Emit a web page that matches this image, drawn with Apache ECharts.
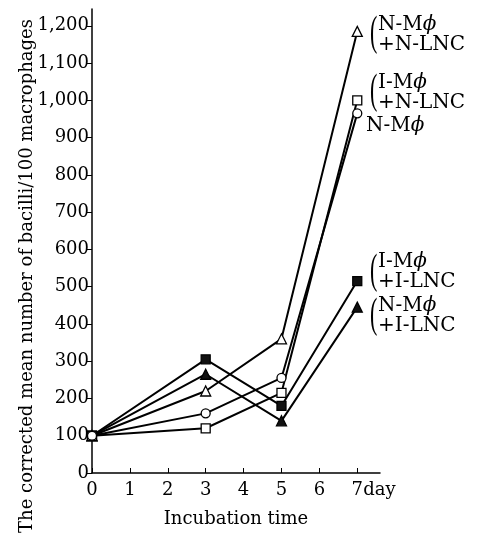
<!DOCTYPE html>
<html>
<head>
<meta charset="utf-8">
<script src="https://cdn.jsdelivr.net/npm/echarts@6/dist/echarts.min.js"></script>
<style>
html, body { margin: 0; padding: 0; background: #fff; }
#chart { width: 477px; height: 545px; }
</style>
</head>
<body>
<div id="chart"></div>
<script>
// incubation days and values
var days = [0, 3, 5, 7];
var xTicks = [0, 1, 2, 3, 4, 5, 6, 7];
var yTicks = [0, 100, 200, 300, 400, 500, 600, 700, 800, 900, 1000, 1100, 1200];

var nnVals = [100, 220, 360, 1185];   // N-Mϕ + N-LNC
var inVals = [100, 120, 215, 1000];   // I-Mϕ + N-LNC
var nVals = [100, 160, 255, 965];     // N-Mϕ
var iiVals = [100, 305, 180, 515];    // I-Mϕ + I-LNC
var niVals = [100, 265, 140, 445];    // N-Mϕ + I-LNC

var font = 'DejaVu Serif';

function pairs(vals) {
    return days.map(function (d, i) { return [d, vals[i]]; });
}

function line(name, vals, symbol, filled) {
    return {
        name: name,
        type: 'line',
        data: pairs(vals),
        symbol: symbol,
        symbolSize: symbol == 'triangle' ? 10 : 9,
        showAllSymbol: true,
        lineStyle: { color: '#000', width: 2 },
        itemStyle: {
            color: filled ? '#111' : '#fff',
            borderColor: '#000',
            borderWidth: 1.3
        },
        z: filled ? 3 : 4,
        animation: false
    };
}

var chart = echarts.init(document.getElementById('chart'));

var option = {
    animation: false,
    backgroundColor: '#fff',
    grid: { left: 92, right: 97, top: 9, bottom: 72 },
    xAxis: {
        type: 'value',
        min: 0,
        max: 7.6,
        splitLine: { show: false },
        axisLine: { lineStyle: { color: '#000', width: 1.5 } },
        axisTick: {
            inside: true, length: 5,
            lineStyle: { color: '#000', width: 1 },
            customValues: xTicks
        },
        axisLabel: {
            customValues: xTicks,
            margin: 8,
            color: '#000',
            fontFamily: font,
            fontSize: 18
        },
        name: 'Incubation time',
        nameLocation: 'middle',
        nameGap: 37,
        nameTextStyle: { color: '#000', fontFamily: font, fontSize: 18 }
    },
    yAxis: {
        type: 'value',
        min: 0,
        max: 1245,
        splitLine: { show: false },
        axisLine: { lineStyle: { color: '#000', width: 1.5 } },
        axisTick: {
            length: 5,
            lineStyle: { color: '#000', width: 1 },
            customValues: yTicks
        },
        axisLabel: {
            customValues: yTicks,
            margin: 3,
            color: '#000',
            fontFamily: font,
            fontSize: 18,
            formatter: function (v) {
                return v >= 1000 ? Math.floor(v / 1000) + ',' + String(v % 1000).padStart(3, '0') : String(v);
            }
        }
    },
    series: [
        line('N-Mϕ + N-LNC', nnVals, 'triangle', false),
        line('I-Mϕ + N-LNC', inVals, 'rect', false),
        line('N-Mϕ', nVals, 'circle', false),
        line('I-Mϕ + I-LNC', iiVals, 'rect', true),
        line('N-Mϕ + I-LNC', niVals, 'triangle', true)
    ]
};
chart.setOption(option);

// end labels beside the day-7 points: [values, line1, line2, dy from point]
var endLabels = [
    [nnVals, 'N-M', '+N-LNC', 3],
    [inVals, 'I-M', '+N-LNC', -8],
    [iiVals, 'I-M', '+I-LNC', -9],
    [niVals, 'N-M', '+I-LNC', 9]
];

var rich = {
    t: { fontFamily: font, fontSize: 20, color: '#000', lineHeight: 20 },
    p: { fontFamily: font, fontSize: 20, fontStyle: 'italic', color: '#000', lineHeight: 20 }
};

var graphics = [];
endLabels.forEach(function (e) {
    var pt = chart.convertToPixel({ gridIndex: 0 }, [7, e[0][3]]);
    var cy = pt[1] + e[3];
    // tall thin bracket: small glyph stretched vertically
    graphics.push({
        type: 'text', x: 370, y: cy, scaleY: 1.9,
        style: {
            text: '(', fontFamily: 'Liberation Serif', fontSize: 22, fill: '#000',
            align: 'left', verticalAlign: 'middle'
        }
    });
    graphics.push({
        type: 'text', x: 378, y: cy,
        style: {
            text: '{t|' + e[1] + '}{p|ϕ}\n{t|' + e[2] + '}',
            rich: rich, align: 'left', verticalAlign: 'middle'
        }
    });
});

var cpt = chart.convertToPixel({ gridIndex: 0 }, [7, nVals[3]]);
graphics.push({
    type: 'text', x: 366, y: cpt[1] + 12,
    style: { text: '{t|N-M}{p|ϕ}', rich: rich, align: 'left', verticalAlign: 'middle' }
});

// "day" unit after the last x tick label
var dpt = chart.convertToPixel({ gridIndex: 0 }, [7, 0]);
graphics.push({
    type: 'text', x: dpt[0] + 6, y: dpt[1] + 8,
    style: { text: 'day', fontFamily: font, fontSize: 18, fill: '#000', align: 'left', verticalAlign: 'top' }
});

graphics.push({
    type: 'text', x: 27, y: 276, rotation: Math.PI / 2,
    style: {
        text: 'The corrected mean number of bacilli/100 macrophages',
        fontFamily: font, fontSize: 18, fill: '#000',
        align: 'center', verticalAlign: 'middle'
    }
});

chart.setOption({ graphic: graphics });
</script>
</body>
</html>
